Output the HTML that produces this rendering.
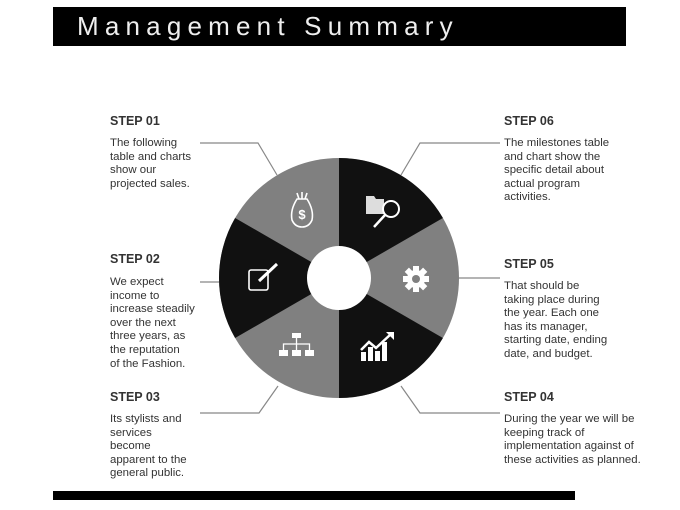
<!DOCTYPE html>
<html><head><meta charset="utf-8"><style>
body{margin:0;width:680px;height:510px;background:#fff;position:relative;overflow:hidden;font-family:"Liberation Sans",sans-serif;color:#333}
.hdr{position:absolute;left:53px;top:7px;width:573px;height:39px;background:#000}
.hdr span{position:absolute;left:24px;top:4px;color:#eee;font-size:26px;letter-spacing:6.2px}
.bar{position:absolute;left:53px;top:491px;width:522px;height:9px;background:#000}
.t{position:absolute;font-size:12.5px;font-weight:bold;color:#333}
.b{position:absolute;font-size:11.4px;line-height:13.6px;color:#333}
</style></head><body>
<div class="hdr"><span>Management Summary</span></div>
<svg width="680" height="510" style="position:absolute;left:0;top:0">
<g stroke="#888" stroke-width="1.2" fill="none">
<polyline points="200,143 258,143 277,175"/>
<polyline points="200,282 222,282"/>
<polyline points="200,413 259,413 278,386"/>
<polyline points="500,143 420,143 401,175"/>
<polyline points="500,278 457,278"/>
<polyline points="500,413 420,413 401,386"/>
</g>
<circle cx="339" cy="278" r="120" fill="#808080"/>
<g fill="#111">
<path d="M339,278 L339,158 A120,120 0 0 1 442.9,218 Z"/>
<path d="M339,278 L442.9,338 A120,120 0 0 1 339,398 Z"/>
<path d="M339,278 L235.1,338 A120,120 0 0 1 235.1,218 Z"/>
</g>
<circle cx="339" cy="278" r="32" fill="#fff"/>
<g fill="none" stroke="#fff" stroke-width="1.6">
<path d="M297,199 Q290,210 292,220 Q295,227 302,227 Q309,227 312,220 Q314,210 307,199 Z"/>
<path d="M297,193 L299,199 M307,193 L305,199 M302,192 L302,199"/>
</g>
<text x="302" y="219" fill="#fff" font-size="13" font-weight="bold" text-anchor="middle" font-family="Liberation Sans">$</text>
<path d="M366,196 L374,196 L376,199 L384,199 L384,214 L366,214 Z" fill="#ddd"/>
<circle cx="391" cy="209" r="8" fill="#111" stroke="#fff" stroke-width="2"/>
<line x1="385" y1="215" x2="374" y2="227" stroke="#fff" stroke-width="2.5"/>
<g transform="translate(416,279)" fill="#fff">
<circle r="9"/>
<g><rect x="-3" y="-13" width="6" height="26"/><rect x="-3" y="-13" width="6" height="26" transform="rotate(45)"/><rect x="-3" y="-13" width="6" height="26" transform="rotate(90)"/><rect x="-3" y="-13" width="6" height="26" transform="rotate(135)"/></g>
<circle r="4" fill="#808080"/>
</g>
<g fill="#fff">
<rect x="361" y="352" width="5" height="9"/><rect x="368" y="347" width="5" height="14"/><rect x="375" y="351" width="5" height="10"/><rect x="382" y="342" width="5" height="19"/>
</g>
<polyline points="361,350 369,342 376,348 391,334" stroke="#fff" stroke-width="2.5" fill="none"/>
<path d="M386,332 L394,332 L394,340 Z" fill="#fff"/>
<g fill="#fff">
<rect x="292" y="333" width="9" height="5"/>
<rect x="279" y="350" width="9" height="6"/><rect x="292" y="350" width="9" height="6"/><rect x="305" y="350" width="9" height="6"/>
</g>
<path d="M296.5,338 V350 M283.5,350 V344 H309.5 V350" stroke="#fff" stroke-width="1.3" fill="none"/>
<rect x="249" y="270" width="19" height="20" rx="2" fill="none" stroke="#fff" stroke-width="1.6"/>
<line x1="259" y1="281" x2="277" y2="264" stroke="#fff" stroke-width="3"/>
</svg>
<div class="t" style="left:110px;top:114px">STEP 01</div>
<div class="b" style="left:110px;top:137px">The following<br>table and charts<br>show our<br>projected sales.</div>
<div class="t" style="left:110px;top:252px">STEP 02</div>
<div class="b" style="left:110px;top:276px">We expect<br>income to<br>increase steadily<br>over the next<br>three years, as<br>the reputation<br>of the Fashion.</div>
<div class="t" style="left:110px;top:390px">STEP 03</div>
<div class="b" style="left:110px;top:413px">Its stylists and<br>services<br>become<br>apparent to the<br>general public.</div>
<div class="t" style="left:504px;top:114px">STEP 06</div>
<div class="b" style="left:504px;top:137px">The milestones table<br>and chart show the<br>specific detail about<br>actual program<br>activities.</div>
<div class="t" style="left:504px;top:257px">STEP 05</div>
<div class="b" style="left:504px;top:280px">That should be<br>taking place during<br>the year. Each one<br>has its manager,<br>starting date, ending<br>date, and budget.</div>
<div class="t" style="left:504px;top:390px">STEP 04</div>
<div class="b" style="left:504px;top:413px">During the year we will be<br>keeping track of<br>implementation against of<br>these activities as planned.</div>
<div class="bar"></div>
</body></html>
